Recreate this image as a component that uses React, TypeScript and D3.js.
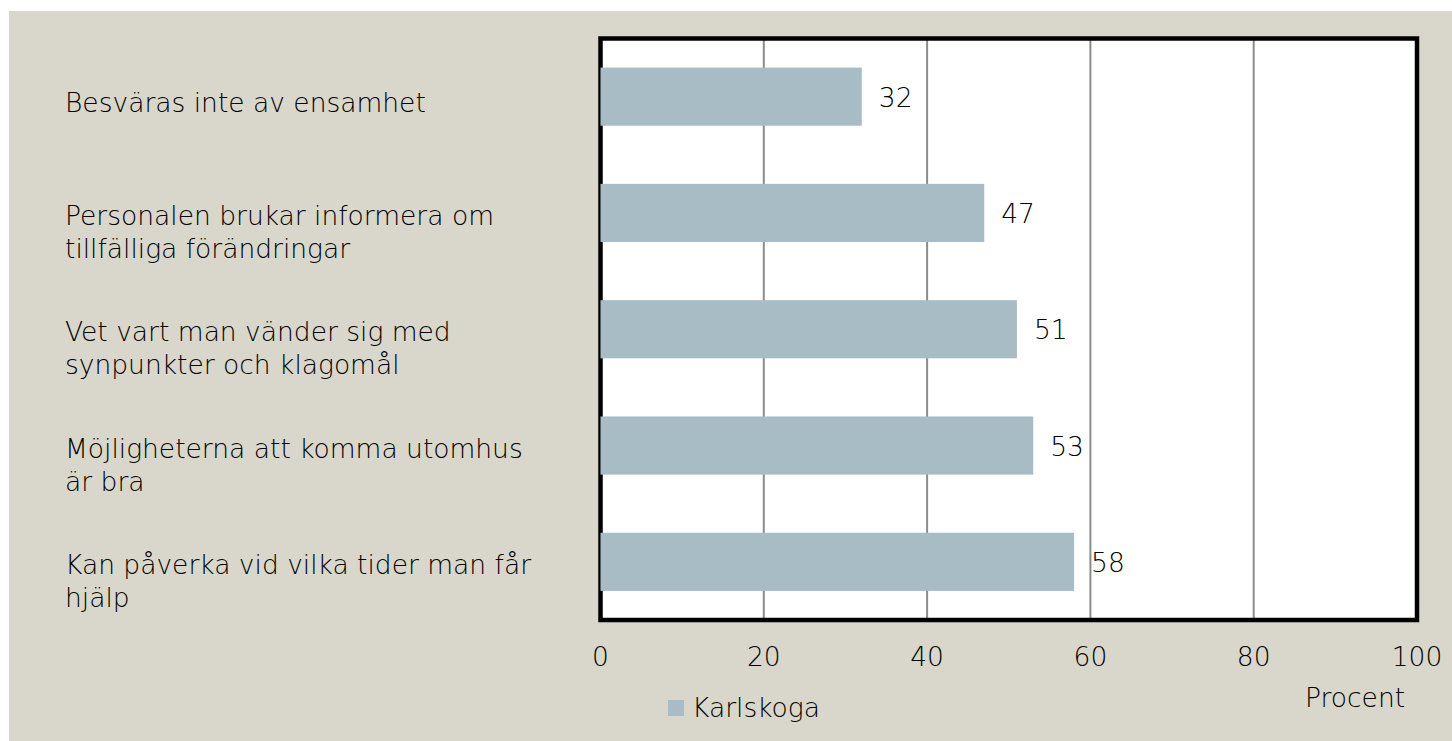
import React from "react";
import * as d3 from "d3";

const categories: string[][] = [
  ["Besväras inte av ensamhet"],
  ["Personalen brukar informera om", "tillfälliga förändringar"],
  ["Vet vart man vänder sig med", "synpunkter och klagomål"],
  ["Möjligheterna att komma utomhus", "är bra"],
  ["Kan påverka vid vilka tider man får", "hjälp"],
];
const values: number[] = [32, 47, 51, 53, 58];
const xTicks: number[] = [0, 20, 40, 60, 80, 100];
const seriesName = "Karlskoga";
const axisTitle = "Procent";

const W = 1452;
const H = 741;
const plot = { left: 600.5, right: 1417, top: 38.5, bottom: 620 };
const font = "'DejaVu Sans', sans-serif";
const fontSize = 26.5;
const weight = 200;
const textColor = "#000000";
const barColor = "#a8bcc6";
const bg = "#d9d7cb";

export default function App(): JSX.Element {
  const keys = categories.map((c) => c.join(" "));
  const x = d3.scaleLinear().domain([0, 100]).range([plot.left, plot.right]);
  const y = d3
    .scaleBand()
    .domain(keys)
    .range([plot.top, plot.bottom])
    .paddingInner(0.5)
    .paddingOuter(0.25);
  const center = (k: string) => (y(k) as number) + y.bandwidth() / 2;

  return (
    <svg
      width={W}
      height={H}
      style={{ position: "absolute", left: 0, top: 0, fontFamily: font, fontWeight: weight }}
    >
      <rect x={0} y={0} width={W} height={H} fill="#ffffff" />
      <rect x={9} y={11} width={W - 9} height={H - 11} fill={bg} />
      <rect
        x={plot.left}
        y={plot.top}
        width={plot.right - plot.left}
        height={plot.bottom - plot.top}
        fill="#ffffff"
      />
      {xTicks.slice(1, -1).map((t) => (
        <line
          key={t}
          x1={x(t)}
          x2={x(t)}
          y1={plot.top}
          y2={plot.bottom}
          stroke="#8c8c8c"
          strokeWidth={2}
        />
      ))}
      <rect
        x={plot.left}
        y={plot.top}
        width={plot.right - plot.left}
        height={plot.bottom - plot.top}
        fill="none"
        stroke="#000000"
        strokeWidth={4.5}
      />
      {values.map((v, i) => (
        <rect
          key={keys[i]}
          x={x(0)}
          y={y(keys[i])}
          width={x(v) - x(0)}
          height={y.bandwidth()}
          fill={barColor}
        />
      ))}
      {values.map((v, i) => (
        <text
          key={"v" + i}
          x={x(v) + 17}
          y={center(keys[i]) + 10}
          fontSize={fontSize}
          fill={textColor}
        >
          {v}
        </text>
      ))}
      {categories.map((lines, i) => {
        const c = center(keys[i]);
        const first = lines.length === 1 ? c + 15 : c + 12;
        return (
          <text key={"c" + i} x={65} fontSize={fontSize} fill={textColor}>
            {lines.map((l, j) => (
              <tspan key={j} x={65} y={first + j * 33}>
                {l}
              </tspan>
            ))}
          </text>
        );
      })}
      {xTicks.map((t) => (
        <text
          key={"t" + t}
          x={x(t)}
          y={666}
          textAnchor="middle"
          fontSize={fontSize}
          fill={textColor}
        >
          {t}
        </text>
      ))}
      <text x={1305} y={707} fontSize={fontSize} fill={textColor}>
        {axisTitle}
      </text>
      <rect x={668} y={700} width={16} height={16} fill={barColor} />
      <text x={692} y={717} fontSize={fontSize} fill={textColor}>
        {seriesName}
      </text>
    </svg>
  );
}
